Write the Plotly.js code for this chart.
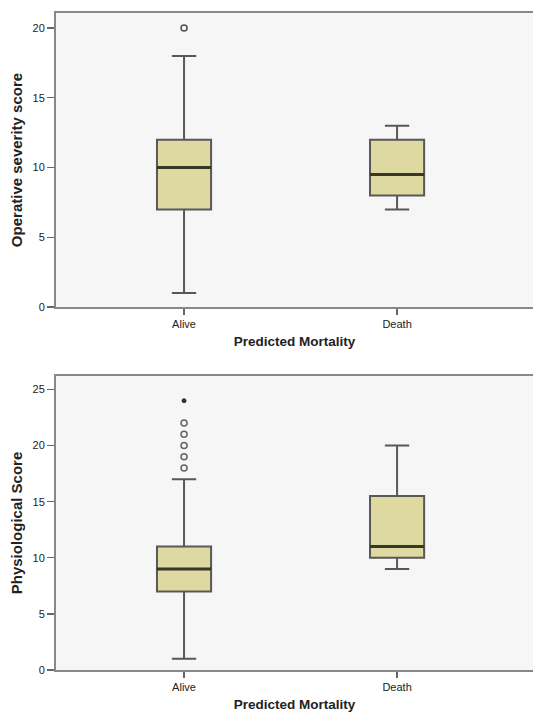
<!DOCTYPE html>
<html>
<head>
<meta charset="utf-8">
<script src="https://cdn.plot.ly/plotly-3.0.1.min.js"></script>
<style>html,body{margin:0;padding:0;background:#fff;}</style>
</head>
<body>
<div id="chart" style="width:533px;height:716px;"></div>
<script>
// Categories
const categories = ["Alive", "Death"];
const categoryPos = [0, 1];

// Operative severity score (top panel)
const opMin = [1, 7];
const opQ1 = [7, 8];
const opMedian = [10, 9.5];
const opQ3 = [12, 12];
const opMax = [18, 13];
const opOutlierCat = [0];
const opOutliers = [20];

// Physiological score (bottom panel)
const phMin = [1, 9];
const phQ1 = [7, 10];
const phMedian = [9, 11];
const phQ3 = [11, 15.5];
const phMax = [17, 20];
const phOutlierCat = [0, 0, 0, 0, 0];
const phOutliers = [18, 19, 20, 21, 22];
const phExtremeCat = [0];
const phExtremes = [24];

const yTicksTop = [0, 5, 10, 15, 20];
const yTicksBottom = [0, 5, 10, 15, 20, 25];

const boxW = 0.254;
const fillC = "rgb(222,217,160)";
const lineC = "rgb(88,88,88)";

function boxTrace(q1, med, q3, lo, hi, xa, ya) {
  return {
    type: "box", x: categoryPos, q1: q1, median: med, q3: q3,
    lowerfence: lo, upperfence: hi, width: boxW, whiskerwidth: 0.45,
    fillcolor: fillC, line: {color: lineC, width: 2},
    xaxis: xa, yaxis: ya, showlegend: false, hoverinfo: "skip", boxpoints: false
  };
}
function medianTrace(med, xa, ya) {
  const xs = [], ys = [];
  categoryPos.forEach((c, i) => { xs.push(c - boxW / 2, c + boxW / 2, null); ys.push(med[i], med[i], null); });
  return {type: "scatter", mode: "lines", x: xs, y: ys, line: {color: "rgb(55,55,40)", width: 3},
    xaxis: xa, yaxis: ya, showlegend: false, hoverinfo: "skip"};
}
function pointsTrace(cat, vals, sym, size, col, xa, ya) {
  return {type: "scatter", mode: "markers", x: cat, y: vals,
    marker: {symbol: sym, size: size, color: col, line: {color: col, width: 1.5}},
    xaxis: xa, yaxis: ya, showlegend: false, hoverinfo: "skip"};
}

const data = [
  boxTrace(opQ1, opMedian, opQ3, opMin, opMax, "x", "y"),
  medianTrace(opMedian, "x", "y"),
  pointsTrace(opOutlierCat, opOutliers, "circle-open", 6, "rgb(80,80,80)", "x", "y"),
  boxTrace(phQ1, phMedian, phQ3, phMin, phMax, "x2", "y2"),
  medianTrace(phMedian, "x2", "y2"),
  pointsTrace(phOutlierCat, phOutliers, "circle-open", 6, "rgb(100,100,100)", "x2", "y2"),
  pointsTrace(phExtremeCat, phExtremes, "asterisk-open", 4, "rgb(50,50,50)", "x2", "y2")
];

const tickFont = {family: "Liberation Sans, Arial, sans-serif", size: 11, color: "#222"};
const xTitleFont = {family: "Liberation Sans, Arial, sans-serif", size: 13.5, color: "#222", weight: "bold"};
const yTitleFont = {family: "Liberation Sans Narrow, Arial Narrow, Liberation Sans, sans-serif", size: 15, color: "#222", weight: "bold"};

function xAxis(dom) {
  return {
    domain: [0, 1], anchor: dom, range: [-0.601, 1.638], tickvals: categoryPos, ticktext: categories,
    ticks: "outside", ticklen: 6, tickwidth: 1.5, tickcolor: "#666",
    showline: true, linecolor: "#888", linewidth: 2, mirror: true,
    showgrid: false, zeroline: false, tickfont: tickFont, fixedrange: true,
    title: {text: "<b>Predicted Mortality</b>", font: xTitleFont, standoff: 7}
  };
}
function yAxis(dom, range, ticks, title, anchor) {
  return {
    domain: dom, anchor: anchor, range: range, tickvals: ticks, ticktext: ticks.map(String),
    ticks: "outside", ticklen: 7, tickwidth: 1.3, tickcolor: "#666",
    showline: true, linecolor: "#888", linewidth: 2,
    showgrid: false, zeroline: false, tickfont: tickFont, fixedrange: true,
    title: {text: "<b>" + title + "</b>", font: yTitleFont, standoff: 6}
  };
}

const layout = {
  width: 533, height: 716,
  margin: {l: 56, r: 0, t: 13, b: 46},
  paper_bgcolor: "#ffffff",
  plot_bgcolor: "rgb(246,246,246)",
  xaxis: xAxis("y"),
  yaxis: yAxis([0.5525, 1], [0, 21.08], yTicksTop, "Operative severity score", "x"),
  xaxis2: xAxis("y2"),
  yaxis2: yAxis([0, 0.4475], [0, 26.2], yTicksBottom, "Physiological Score", "x2"),
  showlegend: false
};

Plotly.newPlot("chart", data, layout, {staticPlot: true, displayModeBar: false});
</script>
</body>
</html>
